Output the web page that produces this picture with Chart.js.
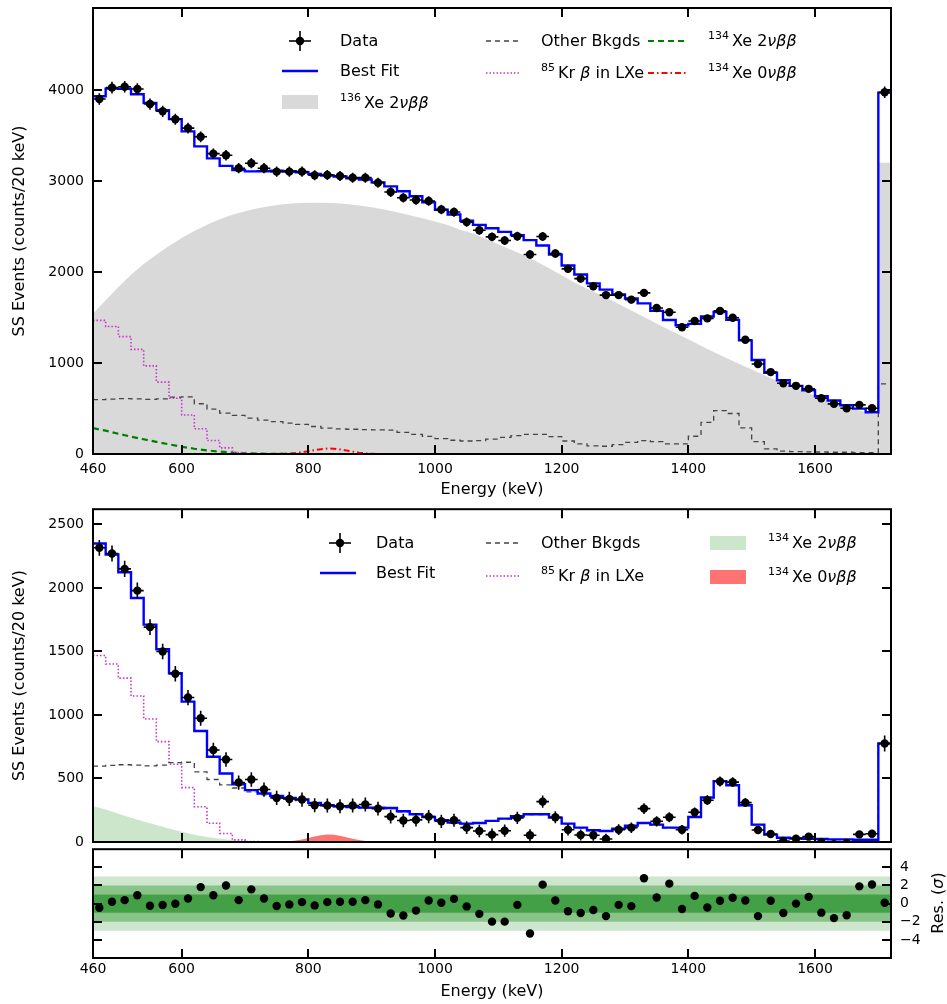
<!DOCTYPE html>
<html>
<head>
<meta charset="utf-8">
<script src="https://cdn.jsdelivr.net/npm/chart.js@4.4.1/dist/chart.umd.min.js"></script>
<style>
html,body{margin:0;padding:0;background:#fff;}
#wrap{position:relative;width:947px;height:1004px;overflow:hidden;font-family:'DejaVu Sans',sans-serif;color:#000;}
canvas{position:absolute;left:0;}
.lg{position:absolute;font-size:16px;line-height:20px;white-space:nowrap;transform:translateY(-50%);}
.lg sup{font-size:11px;line-height:0;position:relative;top:-1px;margin-right:3px;vertical-align:super;}
.it{font-style:italic;}
#samples{position:absolute;left:0;top:0;width:947px;height:1004px;pointer-events:none;}
#resTitle{position:absolute;left:937px;top:903px;transform:translate(-50%,-50%) rotate(-90deg);font-size:16px;white-space:nowrap;}
</style>
</head>
<body>
<div id="wrap">
<canvas id="cTop" width="947" height="505" style="top:0px;width:947px;height:505px"></canvas>
<canvas id="cBot" width="947" height="355" style="top:505px;width:947px;height:355px"></canvas>
<canvas id="cRes" width="947" height="159" style="top:845px;width:947px;height:159px"></canvas>

<svg id="samples" width="947" height="1004">
  <g stroke="#000" stroke-width="1.6"><line x1="289" y1="41" x2="311" y2="41"/><line x1="300" y1="31" x2="300" y2="51"/></g>
  <circle cx="300" cy="41" r="4.2" fill="#000"/>
  <line x1="282" y1="71" x2="318" y2="71" stroke="#0000ff" stroke-width="2.5"/>
  <rect x="282" y="95" width="36" height="14" fill="#d9d9d9"/>
  <line x1="486" y1="41" x2="520" y2="41" stroke="#444" stroke-width="1.3" stroke-dasharray="5,4"/>
  <line x1="486" y1="73" x2="520" y2="73" stroke="#cc33cc" stroke-width="1.5" stroke-dasharray="1.5,2"/>
  <line x1="648" y1="41" x2="686" y2="41" stroke="#008000" stroke-width="2" stroke-dasharray="6,4"/>
  <line x1="648" y1="73" x2="686" y2="73" stroke="#ff0000" stroke-width="2" stroke-dasharray="6,3,1.5,3"/>
  <g stroke="#000" stroke-width="1.6"><line x1="329" y1="543" x2="351" y2="543"/><line x1="340" y1="533" x2="340" y2="553"/></g>
  <circle cx="340" cy="543" r="4.2" fill="#000"/>
  <line x1="320" y1="573" x2="356" y2="573" stroke="#0000ff" stroke-width="2.5"/>
  <line x1="486" y1="543" x2="520" y2="543" stroke="#444" stroke-width="1.3" stroke-dasharray="5,4"/>
  <line x1="486" y1="576" x2="520" y2="576" stroke="#cc33cc" stroke-width="1.5" stroke-dasharray="1.5,2"/>
  <rect x="710" y="536" width="36" height="14" fill="#cce6cc"/>
  <rect x="710" y="570" width="36" height="14" fill="rgba(255,0,0,0.55)"/>
</svg>

<div class="lg" style="left:340px;top:41px">Data</div>
<div class="lg" style="left:340px;top:71px">Best Fit</div>
<div class="lg" style="left:340px;top:103px"><sup>136</sup>Xe 2<span class="it">νββ</span></div>
<div class="lg" style="left:541px;top:41px">Other Bkgds</div>
<div class="lg" style="left:541px;top:73px"><sup>85</sup>Kr <span class="it">β</span> in LXe</div>
<div class="lg" style="left:708px;top:41px"><sup>134</sup>Xe 2<span class="it">νββ</span></div>
<div class="lg" style="left:708px;top:73px"><sup>134</sup>Xe 0<span class="it">νββ</span></div>

<div class="lg" style="left:376px;top:543px">Data</div>
<div class="lg" style="left:376px;top:573px">Best Fit</div>
<div class="lg" style="left:541px;top:543px">Other Bkgds</div>
<div class="lg" style="left:541px;top:576px"><sup>85</sup>Kr <span class="it">β</span> in LXe</div>
<div class="lg" style="left:768px;top:543px"><sup>134</sup>Xe 2<span class="it">νββ</span></div>
<div class="lg" style="left:768px;top:577px"><sup>134</sup>Xe 0<span class="it">νββ</span></div>

<div id="resTitle">Res. (<span class="it">σ</span>)</div>
</div>

<script>
// ---------------- DATA ----------------
// lower bin edges (keV), 20 keV bins; last bin 1700-1720
const BIN_LO = [460,480,500,520,540,560,580,600,620,640,660,680,700,720,740,760,780,800,820,840,
  860,880,900,920,940,960,980,1000,1020,1040,1060,1080,1100,1120,1140,1160,1180,1200,1220,1240,
  1260,1280,1300,1320,1340,1360,1380,1400,1420,1440,1460,1480,1500,1520,1540,1560,1580,1600,1620,1640,
  1660,1680,1700];
const BIN_W = 20;
const X_MIN = 460, X_MAX = 1720;

const X_TICKS = [460, 600, 800, 1000, 1200, 1400, 1600];
const Y_TICKS_TOP = [0, 1000, 2000, 3000, 4000];
const Y_TICKS_BOT = [0, 500, 1000, 1500, 2000, 2500];
const Y_TICKS_RES = [-4, -2, 0, 2, 4];
const SIGMA_BANDS = [3, 2, 1];

// Top panel: total SS spectrum
const TOP_DATA = [3900,4025,4035,4010,3845,3765,3678,3580,3485,3300,
  3282,3140,3195,3140,3102,3102,3102,3062,3065,3054,
  3036,3036,2981,2878,2816,2790,2779,2687,2658,2548,
  2459,2386,2346,2393,2192,2390,2203,2034,1927,1843,
  1746,1746,1696,1770,1604,1558,1393,1461,1490,1572,
  1497,1256,988,900,778,749,716,613,551,503,
  540,503,3975];
const TOP_FIT = [3930,4014,4013,3952,3858,3777,3679,3545,3380,3248,
  3166,3120,3105,3107,3112,3106,3096,3076,3060,3048,
  3028,3015,2984,2940,2887,2832,2765,2684,2632,2562,
  2517,2480,2440,2405,2350,2290,2190,2071,1972,1875,
  1806,1753,1708,1655,1572,1473,1414,1430,1510,1560,
  1474,1248,1033,893,810,749,700,635,588,536,
  498,458,3970];
// 136Xe 2vbb component sampled at the bin edges, plus its value in the last bin
const XE136_2NBB = [1540,1690,1835,1968,2087,2190,2285,2372,2450,2518,
  2578,2628,2668,2700,2725,2743,2754,2760,2761,2757,
  2747,2731,2710,2685,2656,2624,2590,2555,2515,2465,
  2422,2365,2305,2245,2185,2115,2040,1965,1885,1815,
  1751,1683,1613,1542,1470,1398,1330,1262,1190,1122,
  1056,992,928,866,806,748,697,643,589,541,
  498,460,430];
const XE136_LAST = 3200;

// Bottom panel: spectrum with 136Xe 2vbb subtracted
const BOT_DATA = [2316,2271,2150,1979,1692,1500,1324,1137,974,724,
  650,468,492,413,347,339,334,289,287,282,
  287,295,263,200,169,174,200,163,171,113,
  87,58,89,190,53,318,195,97,55,53,
  24,97,113,263,163,195,97,234,329,476,
  471,310,95,63,8,26,42,-1,-17,-8,
  60,65,776];
const BOT_FIT = [2350,2263,2124,1921,1711,1518,1329,1105,874,671,
  539,455,408,382,363,347,334,308,289,282,
  276,271,270,268,242,218,197,171,153,145,
  150,166,184,203,218,218,192,145,113,92,
  87,105,129,150,137,113,113,197,350,479,
  447,289,137,58,34,29,26,24,21,21,
  18,18,776];
const OTHER_BKG = [597,603,608,605,600,605,625,628,552,492,
  450,425,395,372,355,340,326,302,284,277,
  272,267,265,263,238,215,194,169,151,143,
  148,164,182,201,216,216,190,143,111,90,
  85,103,127,148,135,111,111,195,348,477,
  445,287,135,56,32,27,24,22,19,19,
  16,16,770];
const KR85 = [1468,1401,1290,1149,968,790,612,428,277,148,
  67,17,3,0,0,0,0,0,0,0,
  0,0,0,0,0,0,0,0,0,0,
  0,0,0,0,0,0,0,0,0,0,
  0,0,0,0,0,0,0,0,0,0,
  0,0,0,0,0,0,0,0,0,0,
  0,0,0];
const XE134_2NBB_E = [460,480,500,520,540,560,580,600,620,640,660,680,700,720,740,760,780,800];
const XE134_2NBB = [284,256,222,191,162,134,106,80,58,40,26,15,8,4,2,1,0,0];
const XE134_0NBB_E = [750,760,770,780,790,800,810,820,830,840,850,860,870,880,890,900,910];
const XE134_0NBB = [0,2,5,11,20,31,43,53,60,58,50,38,26,15,7,3,0];

// Residuals (sigma)
const RESID = [-0.45,0.2,0.38,0.92,-0.23,-0.16,-0.02,0.56,1.82,0.92,
  2.0,0.38,1.57,0.56,-0.27,-0.09,0.16,-0.2,0.16,0.2,
  0.2,0.38,-0.09,-1.1,-1.32,-0.77,0.34,0.09,0.52,-0.31,
  -1.13,-1.99,-1.99,-0.14,-3.3,2.09,0.35,-0.85,-1.03,-0.71,
  -1.38,-0.14,-0.28,2.8,0.67,2.2,-0.6,0.85,-0.43,0.32,
  0.64,0.35,-1.38,0.32,-1.03,0.0,0.74,-1.0,-1.6,-1.28,
  1.9,2.1,0.1];

// ---------------- helpers ----------------
const CENTERS = BIN_LO.map(e => e + BIN_W / 2);
const STAT_ERR = TOP_DATA.map(v => Math.sqrt(v));
const pts = (xs, ys) => xs.map((x, i) => ({x: x, y: ys[i]}));
function stepPts(vals) {
  const p = BIN_LO.map((e, i) => ({x: e, y: vals[i]}));
  p.push({x: X_MAX, y: vals[vals.length - 1]});
  return p;
}

Chart.defaults.font.family = "'DejaVu Sans', sans-serif";
Chart.defaults.color = '#000';

const framePlugin = {
  id: 'frame',
  afterDraw(chart, args, o) {
    if (!o || !o.on) return;
    const {ctx, chartArea: a} = chart;
    const xs = chart.scales.x, ys = chart.scales.y;
    const L = 9;
    ctx.save();
    ctx.strokeStyle = '#000';
    ctx.lineWidth = 2;
    ctx.beginPath();
    (o.xTicks || []).forEach(v => {
      const p = Math.round(xs.getPixelForValue(v));
      ctx.moveTo(p, a.bottom); ctx.lineTo(p, a.bottom - L);
      ctx.moveTo(p, a.top); ctx.lineTo(p, a.top + L);
    });
    (o.yTicks || []).forEach(v => {
      const p = Math.round(ys.getPixelForValue(v));
      ctx.moveTo(a.left, p); ctx.lineTo(a.left + L, p);
      ctx.moveTo(a.right, p); ctx.lineTo(a.right - L, p);
    });
    ctx.stroke();
    ctx.strokeRect(a.left, a.top, a.right - a.left, a.bottom - a.top);
    ctx.restore();
  }
};
const errPlugin = {
  id: 'errbars',
  afterDatasetsDraw(chart) {
    const {ctx, chartArea: a} = chart;
    const xs = chart.scales.x, ys = chart.scales.y;
    chart.data.datasets.forEach(ds => {
      if (!ds.errY) return;
      ctx.save();
      ctx.beginPath();
      ctx.rect(a.left, a.top, a.right - a.left, a.bottom - a.top);
      ctx.clip();
      ctx.strokeStyle = '#000';
      ctx.lineWidth = 1.6;
      ctx.beginPath();
      ds.data.forEach((p, j) => {
        const px = xs.getPixelForValue(p.x), py = ys.getPixelForValue(p.y);
        ctx.moveTo(xs.getPixelForValue(p.x - ds.errX), py);
        ctx.lineTo(xs.getPixelForValue(p.x + ds.errX), py);
        ctx.moveTo(px, ys.getPixelForValue(p.y - ds.errY[j]));
        ctx.lineTo(px, ys.getPixelForValue(p.y + ds.errY[j]));
      });
      ctx.stroke();
      ctx.restore();
    });
  }
};
Chart.register(framePlugin, errPlugin);

const lineDs = (data, extra) => Object.assign({
  type: 'line', data: data, pointRadius: 0, borderWidth: 1.5, fill: false, tension: 0
}, extra);

const dataDs = (ys) => ({
  type: 'scatter', data: pts(CENTERS, ys), pointRadius: 4.2, pointBackgroundColor: '#000',
  pointBorderWidth: 0, borderColor: '#000', errY: STAT_ERR, errX: BIN_W / 2, order: 1
});

function xScale(opts) {
  return Object.assign({
    type: 'linear', min: X_MIN, max: X_MAX,
    afterBuildTicks: s => { s.ticks = X_TICKS.map(v => ({value: v})); },
    grid: {display: false, drawTicks: false}, border: {display: false},
    ticks: {padding: 7, font: {size: 14}, color: '#000', autoSkip: false, maxRotation: 0, minRotation: 0,
      callback: v => String(v)}
  }, opts);
}
function yScale(ticksArr, opts) {
  return Object.assign({
    type: 'linear',
    afterBuildTicks: s => { s.ticks = ticksArr.map(v => ({value: v})); },
    grid: {display: false, drawTicks: false}, border: {display: false},
    ticks: {padding: 9, font: {size: 14}, color: '#000', autoSkip: false,
      callback: v => (v < 0 ? '\u2212' + Math.abs(v) : String(v))}
  }, opts);
}
const commonOpts = {responsive: false, animation: false, events: []};
const STEP = 'before';

// ---------------- TOP PANEL ----------------
const grayPts = pts(BIN_LO, XE136_2NBB);
grayPts.push({x: BIN_LO[BIN_LO.length - 1], y: XE136_LAST});
grayPts.push({x: X_MAX, y: XE136_LAST});

new Chart(document.getElementById('cTop'), {
  type: 'scatter',
  data: {datasets: [
    lineDs(grayPts, {borderWidth: 0, borderColor: 'rgba(0,0,0,0)', backgroundColor: '#d9d9d9', fill: 'origin', order: 10}),
    lineDs(stepPts(OTHER_BKG), {stepped: STEP, borderColor: '#444', borderWidth: 1.3, borderDash: [5, 4], order: 5}),
    lineDs(stepPts(KR85), {stepped: STEP, borderColor: '#cc33cc', borderWidth: 1.6, borderDash: [1.5, 2], order: 5}),
    lineDs(pts(XE134_2NBB_E, XE134_2NBB), {borderColor: '#008000', borderWidth: 2.2, borderDash: [6, 4], order: 5}),
    lineDs(pts(XE134_0NBB_E, XE134_0NBB), {borderColor: '#ff0000', borderWidth: 2, borderDash: [6, 3, 1.5, 3], order: 5}),
    lineDs(stepPts(TOP_FIT), {stepped: STEP, borderColor: '#0000ff', borderWidth: 2.4, order: 2}),
    dataDs(TOP_DATA)
  ]},
  options: Object.assign({}, commonOpts, {
    layout: {padding: {left: 0, right: 56, top: 8, bottom: 0}},
    plugins: {legend: {display: false}, tooltip: {enabled: false},
      frame: {on: true, xTicks: X_TICKS, yTicks: Y_TICKS_TOP}},
    scales: {
      x: xScale({
        afterFit: s => { s.height = 51; s.paddingLeft = 0; s.paddingRight = 0; },
        title: {display: true, text: 'Energy (keV)', font: {size: 16}, color: '#000', padding: {top: 0, bottom: 6}}
      }),
      y: yScale(Y_TICKS_TOP, {
        min: 0, max: 4900,
        afterFit: s => { s.width = 93; s.paddingTop = 0; s.paddingBottom = 0; },
        title: {display: true, text: 'SS Events (counts/20 keV)', font: {size: 16}, color: '#000', padding: {top: 10, bottom: 0}}
      })
    }
  })
});

// ---------------- BOTTOM PANEL ----------------
new Chart(document.getElementById('cBot'), {
  type: 'scatter',
  data: {datasets: [
    lineDs(pts(XE134_2NBB_E, XE134_2NBB), {borderWidth: 0, borderColor: 'rgba(0,0,0,0)', backgroundColor: '#cce6cc', fill: 'origin', order: 10}),
    lineDs(pts(XE134_0NBB_E, XE134_0NBB), {borderWidth: 0, borderColor: 'rgba(0,0,0,0)', backgroundColor: 'rgba(255,0,0,0.55)', fill: 'origin', order: 9}),
    lineDs(stepPts(OTHER_BKG), {stepped: STEP, borderColor: '#444', borderWidth: 1.3, borderDash: [5, 4], order: 5}),
    lineDs(stepPts(KR85), {stepped: STEP, borderColor: '#cc33cc', borderWidth: 1.6, borderDash: [1.5, 2], order: 5}),
    lineDs(stepPts(BOT_FIT), {stepped: STEP, borderColor: '#0000ff', borderWidth: 2.4, order: 2}),
    dataDs(BOT_DATA)
  ]},
  options: Object.assign({}, commonOpts, {
    layout: {padding: {left: 0, right: 56, top: 4, bottom: 0}},
    plugins: {legend: {display: false}, tooltip: {enabled: false},
      frame: {on: true, xTicks: X_TICKS, yTicks: Y_TICKS_BOT}},
    scales: {
      x: xScale({
        afterFit: s => { s.height = 18; s.paddingLeft = 0; s.paddingRight = 0; },
        ticks: {display: false}
      }),
      y: yScale(Y_TICKS_BOT, {
        min: 0, max: 2620,
        afterFit: s => { s.width = 93; s.paddingTop = 0; s.paddingBottom = 0; },
        title: {display: true, text: 'SS Events (counts/20 keV)', font: {size: 16}, color: '#000', padding: {top: 10, bottom: 0}}
      })
    }
  })
});

// ---------------- RESIDUAL PANEL ----------------
const bandColors = {3: '#cde6cd', 2: '#88c488', 1: '#44a047'};
const bandDs = SIGMA_BANDS.map((s, i) => lineDs(pts([X_MIN, X_MAX], [s, s]), {
  borderWidth: 0, borderColor: 'rgba(0,0,0,0)', backgroundColor: bandColors[s], fill: {value: -s}, order: 10 - i
}));
new Chart(document.getElementById('cRes'), {
  type: 'scatter',
  data: {datasets: bandDs.concat([
    {type: 'scatter', data: pts(CENTERS, RESID), pointRadius: 4.2, pointBackgroundColor: '#000', pointBorderWidth: 0, order: 1}
  ])},
  options: Object.assign({}, commonOpts, {
    layout: {padding: {left: 93, right: 0, top: 2, bottom: 0}},
    plugins: {legend: {display: false}, tooltip: {enabled: false},
      frame: {on: true, xTicks: X_TICKS, yTicks: Y_TICKS_RES}},
    scales: {
      x: xScale({
        afterFit: s => { s.height = 46; s.paddingLeft = 0; s.paddingRight = 0; },
        ticks: {padding: 3, font: {size: 14}, color: '#000', autoSkip: false, maxRotation: 0, minRotation: 0, callback: v => String(v)},
        title: {display: true, text: 'Energy (keV)', font: {size: 16}, color: '#000', padding: {top: 0, bottom: 3}}
      }),
      y: yScale(Y_TICKS_RES, {
        position: 'right', min: -6, max: 6,
        afterFit: s => { s.width = 56; s.paddingTop = 0; s.paddingBottom = 0; }
      })
    }
  })
});
</script>
</body>
</html>
